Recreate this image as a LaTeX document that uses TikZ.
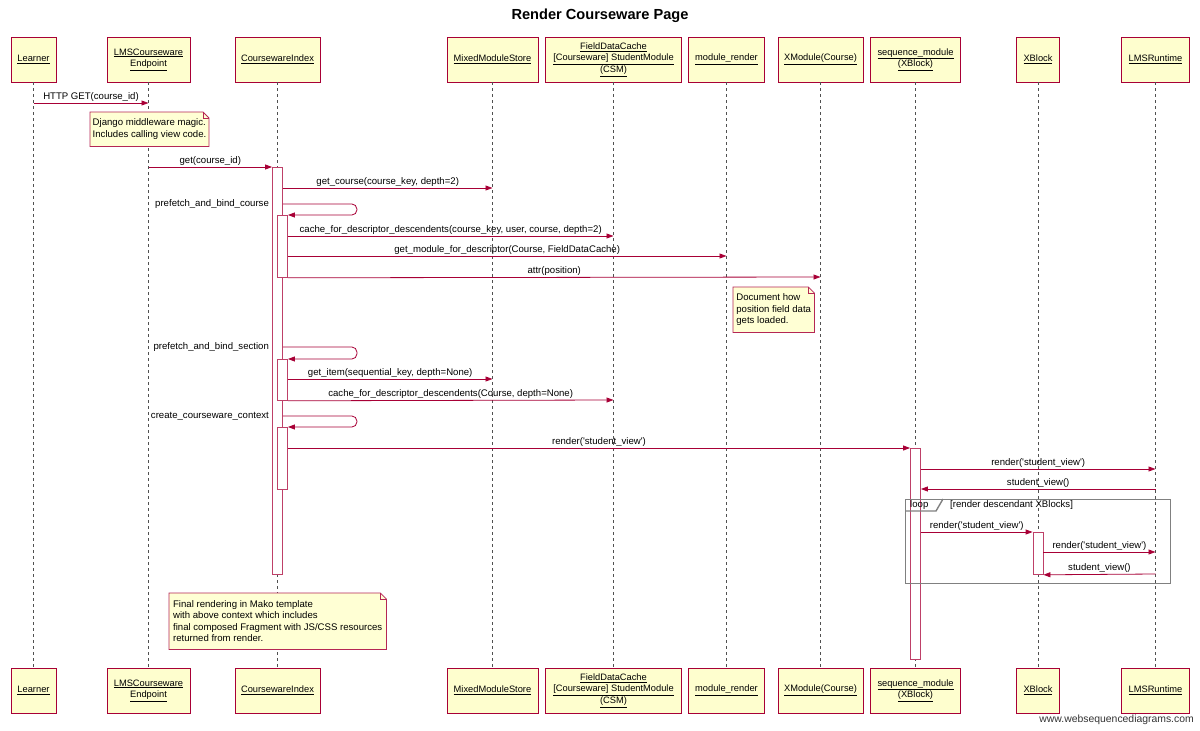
\documentclass[tikz,border=0pt]{standalone}
\usepackage{fontspec}
\setmainfont{Liberation Sans}[Ligatures=TeXOff]
\usepackage{tikz}
\usetikzlibrary{arrows.meta,positioning,calc}
\definecolor{wsdred}{RGB}{168, 0, 54}
\definecolor{wsdfill}{RGB}{254, 254, 206}
\definecolor{notefill}{RGB}{255, 255, 212}
\definecolor{framegray}{RGB}{128, 128, 128}
\definecolor{lifegray}{RGB}{80, 80, 80}

\begin{document}
\begin{tikzpicture}[
  x=1pt, y=-1pt,
  font=\fontsize{9.6pt}{11.4pt}\selectfont,
  partbox/.style={rectangle, draw=wsdred, fill=wsdfill, line width=0.8pt, minimum height=45pt, inner sep=2pt, align=center, font=\fontsize{9.3pt}{11.5pt}\selectfont},
  lifeline/.style={draw=lifegray, line width=0.7pt, dash pattern=on 3pt off 3pt},
  actbar/.style={rectangle, draw=wsdred!75, fill=white, line width=0.8pt, minimum width=10pt, inner sep=0pt},
  msg/.style={-{Triangle[length=7pt,width=5pt]}, draw=wsdred, line width=0.8pt},
  msglbl/.style={above, inner sep=1.5pt},
  selflbl/.style={anchor=east, inner sep=3pt},
  notebox/.style={rectangle, fill=notefill, inner sep=2.5pt, align=left, anchor=north west},
  notebd/.style={draw=wsdred!85, line width=0.8pt, line join=miter},
  loopframe/.style={rectangle, draw=framegray, line width=1.4pt, inner sep=0pt}
]
\useasboundingbox (0,0) rectangle (1200,731);
\node[font=\fontsize{14.6pt}{16pt}\selectfont\bfseries] (title) at (600,16) {Render Courseware Page};

\node[partbox, minimum width=45pt] (learner) at (33.5,59.5) {\underline{Learner}};
\node[partbox, minimum width=83pt] (lms) at (148.5,59.5) {\underline{LMSCourseware}\\\underline{Endpoint}};
\node[partbox, minimum width=85pt] (ci) at (277.5,59.5) {\underline{CoursewareIndex}};
\node[partbox, minimum width=91pt] (mms) at (492.5,59.5) {\underline{MixedModuleStore}};
\node[partbox, minimum width=136pt] (fdc) at (613.5,59.5) {\underline{FieldDataCache}\\\underline{[Courseware] StudentModule}\\\underline{(CSM)}};
\node[partbox, minimum width=76pt] (mrender) at (726.5,59.5) {\underline{module\_render}};
\node[partbox, minimum width=85pt] (xmod) at (820.5,59.5) {\underline{XModule(Course)}};
\node[partbox, minimum width=90pt] (seqmod) at (915.5,59.5) {\underline{sequence\_module}\\\underline{(XBlock)}};
\node[partbox, minimum width=43pt] (xblock) at (1038,59.5) {\underline{XBlock}};
\node[partbox, minimum width=68pt] (runtime) at (1155.5,59.5) {\underline{LMSRuntime}};

\node[partbox, minimum width=45pt] (learnerbot) at (33.5,690.5) {\underline{Learner}};
\node[partbox, minimum width=83pt] (lmsbot) at (148.5,690.5) {\underline{LMSCourseware}\\\underline{Endpoint}};
\node[partbox, minimum width=85pt] (cibot) at (277.5,690.5) {\underline{CoursewareIndex}};
\node[partbox, minimum width=91pt] (mmsbot) at (492.5,690.5) {\underline{MixedModuleStore}};
\node[partbox, minimum width=136pt] (fdcbot) at (613.5,690.5) {\underline{FieldDataCache}\\\underline{[Courseware] StudentModule}\\\underline{(CSM)}};
\node[partbox, minimum width=76pt] (mrenderbot) at (726.5,690.5) {\underline{module\_render}};
\node[partbox, minimum width=85pt] (xmodbot) at (820.5,690.5) {\underline{XModule(Course)}};
\node[partbox, minimum width=90pt] (seqmodbot) at (915.5,690.5) {\underline{sequence\_module}\\\underline{(XBlock)}};
\node[partbox, minimum width=43pt] (xblockbot) at (1038,690.5) {\underline{XBlock}};
\node[partbox, minimum width=68pt] (runtimebot) at (1155.5,690.5) {\underline{LMSRuntime}};

\draw[lifeline] (learner) -- (learnerbot);
\draw[lifeline] (lms) -- (lmsbot);
\draw[lifeline] (ci) -- (cibot);
\draw[lifeline] (mms) -- (mmsbot);
\draw[lifeline] (fdc) -- (fdcbot);
\draw[lifeline] (mrender) -- (mrenderbot);
\draw[lifeline] (xmod) -- (xmodbot);
\draw[lifeline] (seqmod) -- (seqmodbot);
\draw[lifeline] (xblock) -- (xblockbot);
\draw[lifeline] (runtime) -- (runtimebot);

\node[actbar, minimum height=407pt, anchor=north] (ciact) at (ci |- 0,167) {};
\node[actbar, minimum height=62pt, anchor=north, xshift=5pt] (cin1) at (ci |- 0,215) {};
\node[actbar, minimum height=41pt, anchor=north, xshift=5pt] (cin2) at (ci |- 0,359) {};
\node[actbar, minimum height=62pt, anchor=north, xshift=5pt] (cin3) at (ci |- 0,427) {};
\node[actbar, minimum height=211pt, anchor=north] (seqact) at (seqmod |- 0,448) {};
\node[actbar, minimum height=42pt, anchor=north] (xbact) at (xblock |- 0,532) {};

\draw[msg] (learner |- 0,103) -- node[msglbl] {HTTP GET(course\_id)} (lms |- 0,103);
\draw[msg] (lms |- 0,167) -- node[msglbl] {get(course\_id)} (ciact.north west);
\draw[msg] (ciact.east |- 0,188) -- node[msglbl] {get\_course(course\_key, depth=2)} (mms |- 0,188);
\draw[msg, rounded corners=5pt] (ciact.east |- 0,204) -| ++(74,11) -- (cin1.north east);
\node[selflbl] (lblbindcourse) at (ciact.west |- 0,204) {prefetch\_and\_bind\_course};
\draw[msg] (cin1.east |- 0,236) -- node[msglbl] {cache\_for\_descriptor\_descendents(course\_key, user, course, depth=2)} (fdc |- 0,236);
\draw[msg] (cin1.east |- 0,256) -- node[msglbl] {get\_module\_for\_descriptor(Course, FieldDataCache)} (mrender |- 0,256);
\draw[msg] (cin1.south east) -- node[msglbl] {attr(position)} (xmod |- 0,277);
\draw[msg, rounded corners=5pt] (ciact.east |- 0,347) -| ++(74,12) -- (cin2.north east);
\node[selflbl] (lblbindsection) at (ciact.west |- 0,347) {prefetch\_and\_bind\_section};
\draw[msg] (cin2.east |- 0,379) -- node[msglbl] {get\_item(sequential\_key, depth=None)} (mms |- 0,379);
\draw[msg] (cin2.south east) -- node[msglbl] {cache\_for\_descriptor\_descendents(Course, depth=None)} (fdc |- 0,400);
\draw[msg, rounded corners=5pt] (ciact.east |- 0,416) -| ++(74,11) -- (cin3.north east);
\node[selflbl] (lblcontext) at (ciact.west |- 0,416) {create\_courseware\_context};
\draw[msg] (cin3.east |- 0,448) -- node[msglbl] {render('student\_view')} (seqact.north west);
\draw[msg] (seqact.east |- 0,469) -- node[msglbl] {render('student\_view')} (runtime |- 0,469);
\draw[msg] (runtime |- 0,489) -- node[msglbl] {student\_view()} (seqact.east |- 0,489);

\node[loopframe, anchor=north west, minimum width=265pt, minimum height=84pt] (loopbox) at (905,499) {};
\draw[draw=framegray, line width=1.4pt] ([yshift=-12pt]loopbox.north west) -- ++(31,0) -- ++(7,-12);
\node[anchor=west, inner sep=0pt] (looplbl) at (910,505) {loop};
\node[anchor=west, inner sep=0pt] (loopcond) at (950,505) {[render descendant XBlocks]};
\draw[msg] (seqact.east |- 0,532) -- node[msglbl] {render('student\_view')} (xbact.north west);
\draw[msg] (xbact.east |- 0,552) -- node[msglbl] {render('student\_view')} (runtime |- 0,552);
\draw[msg] (runtime |- 0,574) -- node[msglbl] {student\_view()} (xbact.south east);

\node[notebox, minimum width=116pt, minimum height=34pt] (note1) at (90,112) {Django middleware magic.\\Includes calling view code.};
\node[notebox, minimum width=81pt, minimum height=45pt] (note2) at (733,287) {Document how\\position field data\\gets loaded.};
\node[notebox, minimum width=217pt, minimum height=56pt] (note3) at (169,593) {Final rendering in Mako template\\with above context which includes\\final composed Fragment with JS/CSS resources\\returned from render.};
\fill[white] ([xshift=-6pt]note1.north east) -- (note1.north east) -- ([yshift=-6pt]note1.north east) -- cycle;
\fill[white] ([xshift=-6pt]note2.north east) -- (note2.north east) -- ([yshift=-6pt]note2.north east) -- cycle;
\fill[white] ([xshift=-6pt]note3.north east) -- (note3.north east) -- ([yshift=-6pt]note3.north east) -- cycle;
\draw[notebd] (note1.north west) -- ([xshift=-6pt]note1.north east) -- ([yshift=-6pt]note1.north east) -- (note1.south east) -- (note1.south west) -- cycle;
\draw[notebd] ([xshift=-6pt]note1.north east) |- ([yshift=-6pt]note1.north east);
\draw[notebd] (note2.north west) -- ([xshift=-6pt]note2.north east) -- ([yshift=-6pt]note2.north east) -- (note2.south east) -- (note2.south west) -- cycle;
\draw[notebd] ([xshift=-6pt]note2.north east) |- ([yshift=-6pt]note2.north east);
\draw[notebd] (note3.north west) -- ([xshift=-6pt]note3.north east) -- ([yshift=-6pt]note3.north east) -- (note3.south east) -- (note3.south west) -- cycle;
\draw[notebd] ([xshift=-6pt]note3.north east) |- ([yshift=-6pt]note3.north east);

\node[anchor=east, inner sep=0pt, font=\fontsize{10.4pt}{12pt}\selectfont, text=black!80] (watermark) at (1194,720) {www.websequencediagrams.com};
\end{tikzpicture}
\end{document}
